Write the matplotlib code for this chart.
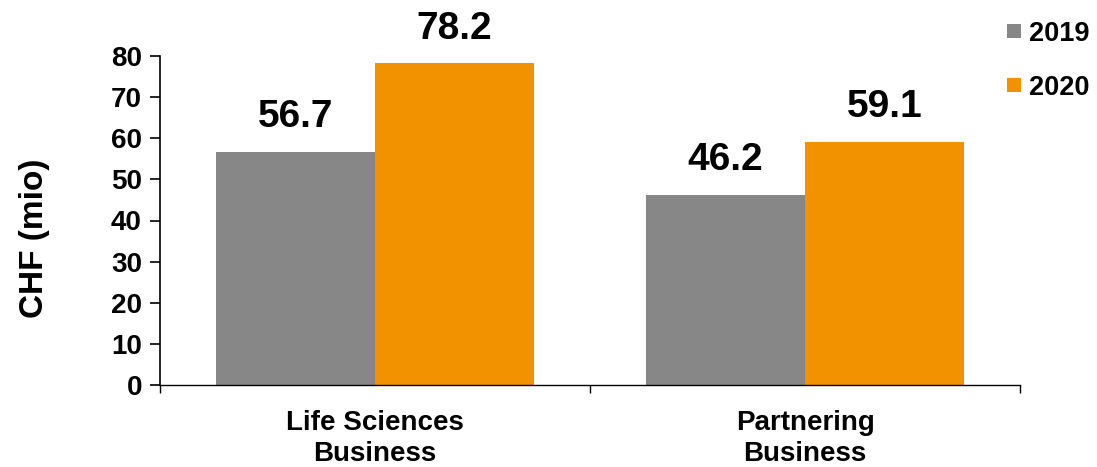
import matplotlib
matplotlib.use("Agg")
import matplotlib.pyplot as plt
import numpy as np
from matplotlib.patches import Rectangle

categories = ["Life Sciences\nBusiness", "Partnering\nBusiness"]
years = ["2019", "2020"]
values_2019 = [56.7, 46.2]
values_2020 = [78.2, 59.1]
colors = ["#878787", "#F39200"]

plt.rcParams["font.family"] = ["Liberation Sans", "DejaVu Sans"]
plt.rcParams["font.weight"] = "bold"

W, H = 1097, 467
fig = plt.figure(figsize=(W / 100, H / 100), dpi=100)
ax = fig.add_axes([160 / W, 1 - 385 / H, 860 / W, 329 / H])

x = np.arange(len(categories))
w = 0.37
for i, (vals, col) in enumerate(zip([values_2019, values_2020], colors)):
    pos = x + (i - 0.5) * w
    ax.bar(pos, vals, width=w, color=col, edgecolor="none")
    for p, v in zip(pos, vals):
        ax.annotate(f"{v:.1f}", (p, v), xytext=(0, 12), textcoords="offset points",
                    ha="center", va="bottom", fontsize=28, fontweight="bold")

ax.set_xlim(-0.5, 1.5)
ax.set_ylim(0, 80)
ax.set_yticks(range(0, 81, 10))
ax.set_xticks([-0.5, 0.5, 1.5])
ax.set_xticklabels([])
ax.set_xticks(x, minor=True)
ax.set_xticklabels(categories, minor=True, fontsize=20, fontweight="bold",
                   linespacing=1.25)
ax.tick_params(axis="x", which="minor", length=0, pad=18)
ax.tick_params(axis="x", which="major", length=6, width=1)
ax.tick_params(axis="y", length=7, width=1.2, labelsize=20, pad=6)
for lbl in ax.get_yticklabels():
    lbl.set_fontweight("bold")

for s in ["top", "right"]:
    ax.spines[s].set_visible(False)
ax.spines["left"].set_linewidth(1.2)
ax.spines["bottom"].set_linewidth(1)

fig.text(35 / W, 1 - 238 / H, "CHF (mio)", rotation=90, ha="center", va="center",
         fontsize=24, fontweight="bold")

# legend: colour swatches with year labels at the upper right
for k, (yr, col) in enumerate(zip(years, colors)):
    yc = 31 + k * 54
    fig.patches.append(Rectangle((1007 / W, 1 - (yc + 7) / H), 14 / W, 14 / H,
                                 transform=fig.transFigure, facecolor=col,
                                 edgecolor="none"))
    fig.text(1029 / W, 1 - yc / H, yr, ha="left", va="center_baseline",
             fontsize=19.5, fontweight="bold")

fig.savefig("out.png", dpi=100)
